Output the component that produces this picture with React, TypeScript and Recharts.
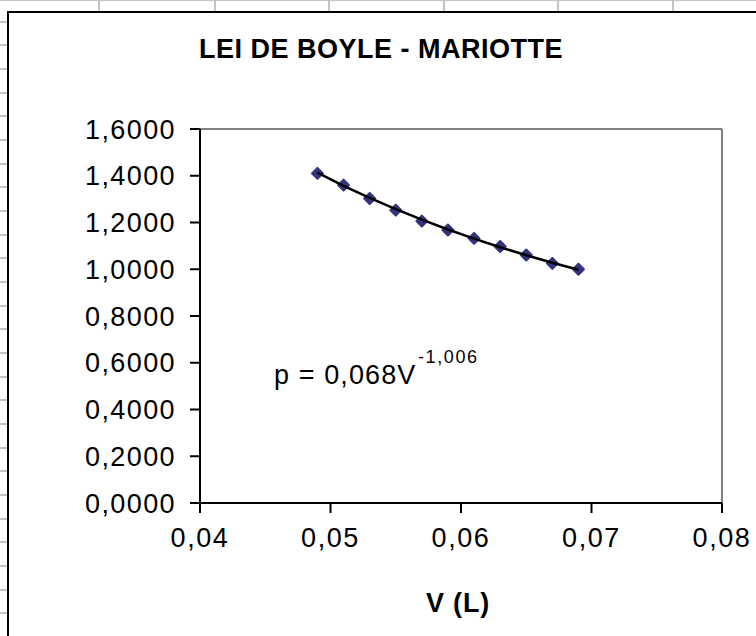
import React from 'react';
import { ScatterChart, Scatter, XAxis, YAxis, ReferenceLine } from 'recharts';

const volumes = [0.049, 0.051, 0.053, 0.055, 0.057, 0.059, 0.061, 0.063, 0.065, 0.067, 0.069];
const pressures = [1.41, 1.36, 1.303, 1.253, 1.206, 1.168, 1.132, 1.097, 1.061, 1.025, 1.0];
const trendPressures = [1.413, 1.357, 1.305, 1.257, 1.212, 1.17, 1.131, 1.094, 1.06, 1.028, 0.998];
const xTicks = [0.04, 0.05, 0.06, 0.07, 0.08];
const yTicks = [0, 0.2, 0.4, 0.6, 0.8, 1.0, 1.2, 1.4, 1.6];
const titleText = 'LEI DE BOYLE - MARIOTTE';
const xLabelText = 'V (L)';
const eqMain = 'p = 0,068V';
const eqExp = '-1,006';

const pointData = volumes.map((v, i) => ({ v, p: pressures[i] }));
const trendData = volumes.map((v, i) => ({ v, p: trendPressures[i] }));

const FONT = '"Liberation Sans", Arial, sans-serif';

const fmtX = (v: number) => v.toFixed(2).replace('.', ',');
const fmtY = (v: number) => v.toFixed(4).replace('.', ',');

const Diamond = (props: any) => {
  const { cx, cy } = props;
  if (cx == null || cy == null) return <g />;
  const r = 5.5;
  return (
    <path
      d={`M${cx},${cy - r}L${cx + r},${cy}L${cx},${cy + r}L${cx - r},${cy}Z`}
      fill="#333380"
      stroke="#333380"
      strokeWidth={2}
      strokeLinejoin="round"
    />
  );
};

const NoShape = () => <g />;

export default function App() {
  const rowLines: number[] = [];
  for (let k = 0; k < 27; k++) rowLines.push(21.7 + k * 23.67);
  const colLines = [98, 214, 328, 443, 557, 672];

  return (
    <div
      style={{
        position: 'absolute',
        left: 0,
        top: 0,
        width: 756,
        height: 636,
        overflow: 'hidden',
        background: '#fff',
      }}
    >
      {/* spreadsheet gridlines behind the chart object */}
      <div style={{ position: 'absolute', left: 0, top: 0, width: 756, height: 1, background: '#c4c4c4' }} />
      {colLines.map((x) => (
        <div key={'c' + x} style={{ position: 'absolute', left: x, top: 0, width: 2, height: 11, background: '#c4c4c4' }} />
      ))}
      {rowLines.map((y) => (
        <div key={'r' + y} style={{ position: 'absolute', left: 0, top: Math.round(y) - 1, width: 7, height: 2, background: '#c4c4c4' }} />
      ))}
      {/* chart area frame */}
      <div
        style={{
          position: 'absolute',
          left: 7,
          top: 11,
          width: 800,
          height: 700,
          border: '2px solid #000',
          background: '#fff',
        }}
      />
      <div style={{ position: 'absolute', left: 0, top: 0 }}>
        <ScatterChart width={756} height={636} margin={{ top: 129, right: 34, bottom: 53, left: 0 }}>
          <XAxis
            type="number"
            dataKey="v"
            domain={[0.04, 0.08]}
            ticks={xTicks}
            tickFormatter={fmtX}
            tickSize={10}
            tickMargin={15}
            height={80}
            allowDataOverflow
            axisLine={{ stroke: '#000', strokeWidth: 2 }}
            tickLine={{ stroke: '#000', strokeWidth: 2 }}
            tick={{ fill: '#000', fontSize: 27, fontFamily: FONT, letterSpacing: 1.6 }}
          />
          <YAxis
            type="number"
            dataKey="p"
            domain={[0, 1.6]}
            ticks={yTicks}
            tickFormatter={fmtY}
            tickSize={10}
            tickMargin={14}
            width={200}
            allowDataOverflow
            axisLine={{ stroke: '#000', strokeWidth: 2 }}
            tickLine={{ stroke: '#000', strokeWidth: 2 }}
            tick={{ fill: '#000', fontSize: 27, fontFamily: FONT, letterSpacing: 1.4 }}
          />
          <ReferenceLine y={1.6} stroke="#808080" strokeWidth={2} />
          <ReferenceLine x={0.08} stroke="#808080" strokeWidth={2} />
          <Scatter data={pointData} shape={Diamond} isAnimationActive={false} />
          <Scatter
            data={trendData}
            shape={NoShape}
            line={{ stroke: '#000', strokeWidth: 2.5 }}
            isAnimationActive={false}
          />
        </ScatterChart>
      </div>
      <svg
        width={756}
        height={636}
        style={{ position: 'absolute', left: 0, top: 0, pointerEvents: 'none' }}
      >
        <text
          x={381}
          y={58}
          textAnchor="middle"
          fontFamily={FONT}
          fontWeight="bold"
          fontSize={27}
          letterSpacing={0.5}
          fill="#000"
        >
          {titleText}
        </text>
        <text
          x={458}
          y={612}
          textAnchor="middle"
          fontFamily={FONT}
          fontWeight="bold"
          fontSize={27}
          letterSpacing={0.8}
          fill="#000"
        >
          {xLabelText}
        </text>
        <text x={274} y={384} fontFamily={FONT} fontSize={27} letterSpacing={1.1} fill="#000">
          {eqMain}
        </text>
        <text x={418} y={363} fontFamily={FONT} fontSize={18} letterSpacing={1.6} fill="#000">
          {eqExp}
        </text>
      </svg>
    </div>
  );
}
